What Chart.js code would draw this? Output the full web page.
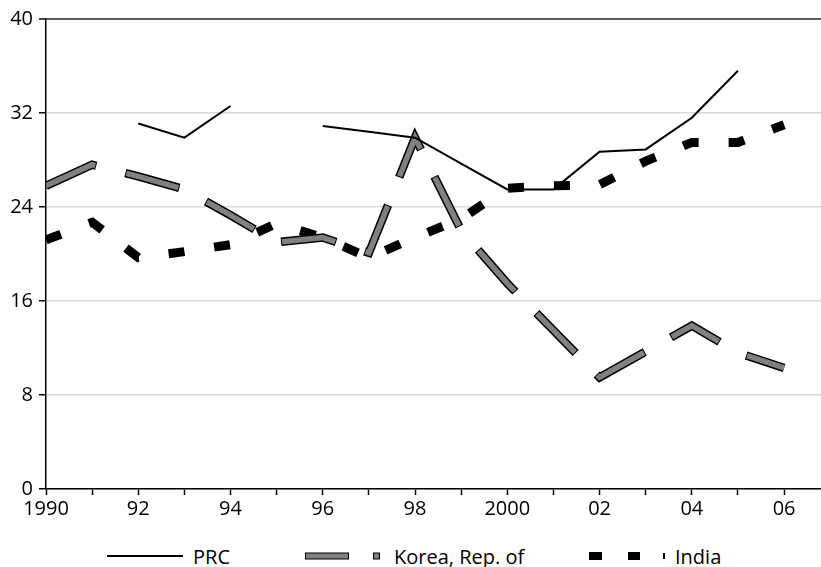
<!DOCTYPE html>
<html>
<head>
<meta charset="utf-8">
<script src="https://cdn.jsdelivr.net/npm/chart.js@4/dist/chart.umd.min.js"></script>
<style>
    body { margin: 0; background: #fff; }
    #wrap { position: relative; width: 821px; height: 567px; }
    #legend { position: absolute; left: 0; top: 540px; }
    #legend text { font-family: 'Open Sans', sans-serif; font-size: 20px; fill: #000; }
</style>
</head>
<body>
<div id="wrap">
    <canvas id="chart" width="821" height="540"></canvas>
    <svg id="legend" width="821" height="27">
        <line x1="107" y1="16" x2="183" y2="16" stroke="#000" stroke-width="2"/>
        <text x="193" y="24">PRC</text>
        <rect x="305.5" y="13" width="43" height="6" fill="#808080" stroke="#000" stroke-width="1"/>
        <rect x="373.5" y="13" width="6" height="6" fill="#808080" stroke="#000" stroke-width="1"/>
        <text x="394" y="24">Korea, Rep. of</text>
        <rect x="589" y="12" width="13" height="8" fill="#000"/>
        <rect x="628" y="12" width="12" height="8" fill="#000"/>
        <rect x="663" y="13" width="2" height="6" fill="#000"/>
        <text x="675" y="24">India</text>
    </svg>
</div>
<script>
const YEARS = [1990, 1991, 1992, 1993, 1994, 1995, 1996, 1997, 1998, 1999, 2000, 2001, 2002, 2003, 2004, 2005, 2006];
const XLABELS = ['1990', '', '92', '', '94', '', '96', '', '98', '', '2000', '', '02', '', '04', '', '06'];
const YTICKS = [0, 8, 16, 24, 32, 40];

const PRC = [null, null, 31.1, 29.9, 32.6, null, 30.9, 30.4, 29.9, 27.7, 25.5, 25.5, 28.7, 28.9, 31.6, 35.6, null];
const KOREA = [25.8, 27.6, 26.6, 25.5, 23.3, 21.0, 21.4, 20.1, 29.9, 22.0, 17.5, 13.5, 9.5, 11.7, 13.9, 11.6, 10.3];
const INDIA = [21.2, 22.7, 19.7, 20.2, 20.8, 22.6, 21.4, 19.7, 21.4, 23.0, 25.6, 25.8, 25.9, 27.9, 29.5, 29.5, 31.0];

const pts = (vals) => YEARS.map((y, i) => ({ x: y, y: vals[i] }));

const FONT = { family: 'Open Sans', size: 20 };

const ctx = document.getElementById('chart').getContext('2d');
new Chart(ctx, {
    type: 'line',
    data: {
        datasets: [
            {
                label: 'PRC',
                data: pts(PRC),
                borderColor: '#000',
                borderWidth: 2,
                pointRadius: 0,
                spanGaps: false,
                order: 0,
            },
            {
                label: 'Korea, Rep. of',
                data: pts(KOREA),
                borderColor: '#808080',
                borderWidth: 5.5,
                borderDash: [54, 32],
                borderCapStyle: 'butt',
                pointRadius: 0,
                order: 1,
            },
            {
                // contorno negro de los trazos de Corea
                label: 'Korea outline',
                data: pts(KOREA),
                borderColor: '#000',
                borderWidth: 8.5,
                borderDash: [56, 30],
                borderDashOffset: 1,
                borderCapStyle: 'butt',
                pointRadius: 0,
                order: 2,
            },
            {
                label: 'India',
                data: pts(INDIA),
                borderColor: '#000',
                borderWidth: 9,
                borderDash: [16, 30],
                borderCapStyle: 'butt',
                pointRadius: 0,
                order: 3,
            }
        ]
    },
    options: {
        responsive: false,
        devicePixelRatio: 1,
        animation: false,
        layout: { padding: { top: 19, right: 0, left: 0, bottom: 0 } },
        plugins: {
            legend: { display: false },
            tooltip: { enabled: false }
        },
        scales: {
            x: {
                type: 'linear',
                min: 1990,
                max: 2006.8,
                afterFit: (s) => { s.height = 51; },
                ticks: {
                    stepSize: 1,
                    autoSkip: false,
                    includeBounds: false,
                    maxRotation: 0,
                    padding: 2,
                    color: '#000',
                    font: FONT,
                    callback: (v) => XLABELS[v - 1990] ?? ''
                },
                grid: { drawOnChartArea: false, tickLength: 6, tickColor: '#000', tickWidth: 1.5 },
                border: { color: '#000', width: 1.5 }
            },
            y: {
                min: 0,
                max: 40,
                afterFit: (s) => { s.width = 46; },
                afterBuildTicks: (s) => { s.ticks = YTICKS.map(v => ({ value: v })); },
                ticks: { padding: 6, color: '#000', font: FONT },
                grid: {
                    color: (c) => c.tick && c.tick.value === 40 ? '#595959' : '#d9d9d9',
                    lineWidth: (c) => c.tick && c.tick.value === 40 ? 2 : 1.5,
                    tickLength: 7,
                    tickColor: '#000',
                    tickWidth: 1.5
                },
                border: { color: '#000', width: 1.5 }
            }
        }
    }
});
</script>
</body>
</html>
